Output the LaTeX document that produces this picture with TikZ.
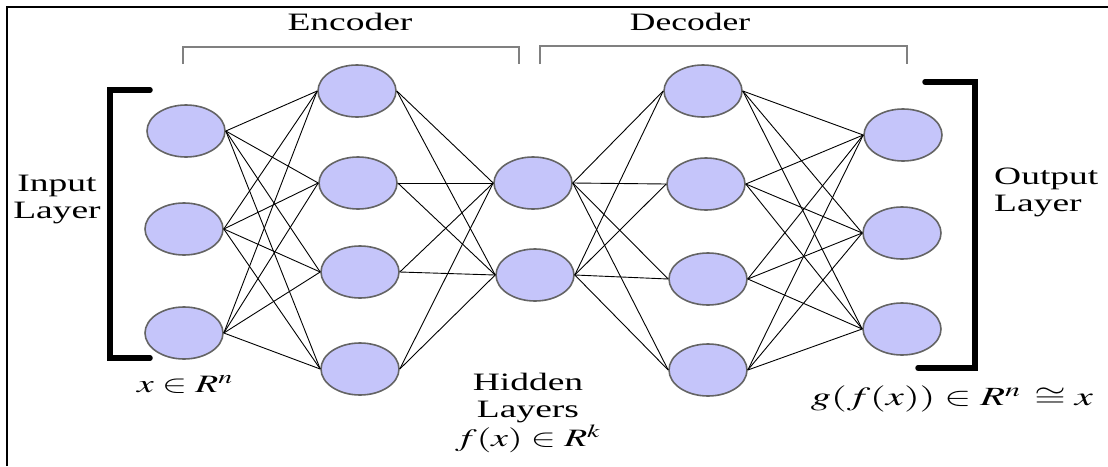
\documentclass[tikz,border=0pt]{standalone}
\usepackage{mathptmx}
\usepackage{fontspec}
\setmainfont{Liberation Serif}
\usetikzlibrary{shapes.geometric}
\newcommand\sx[1]{\scalebox{1.5}[1]{#1}}
\newcommand\sxg[1]{\scalebox{1.62}[1.05]{#1}}
\definecolor{nodefill}{RGB}{197,197,250}
\definecolor{nodeline}{RGB}{100,100,100}
\definecolor{brgray}{RGB}{128,128,128}
\tikzset{
  neuron/.style={ellipse, draw=nodeline, line width=1.6pt, fill=nodefill,
    minimum width=78pt, minimum height=52pt, inner sep=0pt},
  conn/.style={black, line width=0.9pt},
  txt/.style={font=\fontsize{25}{27}\selectfont, inner sep=0pt},
  bigbr/.style={black, line width=5.5pt, line cap=round, line join=miter},
  smallbr/.style={brgray, line width=2pt},
  frameline/.style={black, line width=1.5pt}
}
\begin{document}
\begin{tikzpicture}[x=1pt, y=-1pt]
\useasboundingbox (0,0) rectangle (1108,466);
% frame
\coordinate (fa) at (7,466);
\coordinate (fb) at (7,7);
\coordinate (fc) at (1108,7);
\draw[frameline] (fa) -- (fb) -- (fc);
% neurons
\node[neuron] (i1) at (186,131) {};
\node[neuron] (i2) at (184,229) {};
\node[neuron] (i3) at (184,333) {};
\node[neuron] (e1) at (357,91) {};
\node[neuron] (e2) at (358,183) {};
\node[neuron] (e3) at (360,272) {};
\node[neuron] (e4) at (360,369) {};
\node[neuron] (h1) at (533,183) {};
\node[neuron] (h2) at (535,275) {};
\node[neuron] (d1) at (703,91) {};
\node[neuron] (d2) at (706,184) {};
\node[neuron] (d3) at (708,279) {};
\node[neuron] (d4) at (708,370) {};
\node[neuron] (o1) at (903,135) {};
\node[neuron] (o2) at (902,233) {};
\node[neuron] (o3) at (902,329) {};
% connections
\foreach \a in {i1,i2,i3}{\foreach \b in {e1,e2,e3,e4}{\draw[conn] (\a.east) -- (\b.west);}}
\foreach \a in {e1,e2,e3,e4}{\foreach \b in {h1,h2}{\draw[conn] (\a.east) -- (\b.west);}}
\foreach \a in {h1,h2}{\foreach \b in {d1,d2,d3,d4}{\draw[conn] (\a.east) -- (\b.west);}}
\foreach \a in {d1,d2,d3,d4}{\foreach \b in {o1,o2,o3}{\draw[conn] (\a.east) -- (\b.west);}}
% big brackets
\draw[bigbr] (150,90) -- (110,90) -- (110,358) -- (150,358);
\draw[bigbr] (925,82) -- (975,82) -- (975,368) -- (918,368);
% encoder / decoder brackets
\draw[smallbr] (183,64) -- (183,47) -- (519,47) -- (519,64);
\draw[smallbr] (540,64) -- (540,46) -- (907,46) -- (907,64);
% labels
\node[txt] (enc) at (350,22) {\sx{Encoder}};
\node[txt] (dec) at (690,22) {\scalebox{1.42}[1]{Decoder}};
\node[txt, align=center] (inl) at (57,200) {\sx{Input}\\\sx{Layer}};
\node[txt, align=left, anchor=west] (outl) at (994,192) {\sx{Output}\\\sx{Layer}};
\node[txt] (xin) at (185,384) {\sx{$x\in R^n$}};
\node[txt, align=center] (hid) at (528,413) {\sx{Hidden}\\\sx{Layers}\\\sx{$f(x)\in R^k$}};
\node[txt] (gf) at (952,399) {\sxg{$g(f(x))\in R^{n}\,\cong x$}};
\end{tikzpicture}
\end{document}
